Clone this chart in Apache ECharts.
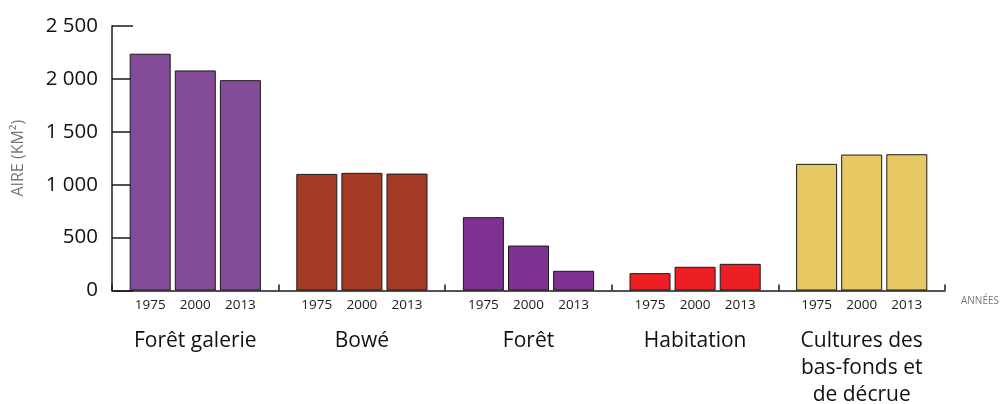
<!DOCTYPE html>
<html>
<head>
<meta charset="utf-8">
<script src="https://cdn.jsdelivr.net/npm/echarts@6/dist/echarts.min.js"></script>
<style>html,body{margin:0;padding:0;background:#fff;}#c{width:1006px;height:404px;}</style>
</head>
<body>
<div id="c"></div>
<script>
var categories = ['Forêt galerie', 'Bowé', 'Forêt', 'Habitation', 'Cultures des\nbas-fonds et\nde décrue'];
var years = ['1975', '2000', '2013'];
var values1975 = [2238, 1102, 693, 164, 1197];
var values2000 = [2080, 1112, 425, 224, 1285];
var values2013 = [1988, 1105, 186, 252, 1288];
var categoryColors = ['#844C98', '#A53A24', '#7F3191', '#ED1F25', '#E8C862'];
var yTicks = [0, 500, 1000, 1500, 2000, 2500];

var FONT = '"Open Sans"';
var seriesValues = [values1975, values2000, values2013];

function fmt(v) {
  var s = String(v);
  return s.length > 3 ? s.slice(0, s.length - 3) + ' ' + s.slice(-3) : s;
}

var series = years.map(function (y, i) {
  return {
    name: y,
    type: 'bar',
    barWidth: 41,
    barGap: '10%',
    data: seriesValues[i].map(function (v, j) {
      return { value: v, itemStyle: { color: categoryColors[j] } };
    }),
    itemStyle: { borderColor: '#1a1a1a', borderWidth: 1 },
    label: {
      show: true,
      position: 'bottom',
      distance: 8,
      formatter: function () { return y; },
      fontFamily: FONT,
      fontSize: 13.5,
      color: '#1a1a1a'
    },
    emphasis: { disabled: true }
  };
});

var chart = echarts.init(document.getElementById('c'), null, { renderer: 'canvas' });
chart.setOption({
  animation: false,
  backgroundColor: '#ffffff',
  grid: { left: 112, right: 61, top: 26, bottom: 113.5, containLabel: false, outerBoundsMode: 'none' },
  xAxis: {
    type: 'category',
    data: categories,
    name: 'ANNÉES',
    nameLocation: 'end',
    nameGap: 16,
    nameTextStyle: {
      fontFamily: FONT, fontSize: 10, color: '#777777',
      align: 'left', verticalAlign: 'top', padding: [6, 0, 0, 0]
    },
    axisLine: { show: true, lineStyle: { color: '#1a1a1a', width: 1.5 } },
    axisTick: { show: true, inside: true, length: 6, alignWithLabel: false, lineStyle: { color: '#1a1a1a', width: 1.5 } },
    axisLabel: {
      fontFamily: FONT, fontSize: 21, color: '#111111', margin: 37,
      lineHeight: 27, interval: 0
    },
    splitLine: { show: false }
  },
  yAxis: {
    type: 'value',
    min: 0,
    max: 2500,
    interval: 500,
    name: 'AIRE (KM²)',
    nameLocation: 'middle',
    nameGap: 86,
    nameRotate: 90,
    nameTextStyle: { fontFamily: FONT, fontSize: 16, color: '#777777' },
    axisLine: { show: true, lineStyle: { color: '#1a1a1a', width: 1.5 } },
    axisTick: { show: true, inside: true, length: 21, lineStyle: { color: '#1a1a1a', width: 1.5 } },
    axisLabel: {
      fontFamily: FONT, fontSize: 20.5, color: '#111111', margin: 14,
      formatter: function (v) { return yTicks.indexOf(v) >= 0 ? fmt(v) : ''; }
    },
    splitLine: { show: false }
  },
  series: series
});
</script>
</body>
</html>
